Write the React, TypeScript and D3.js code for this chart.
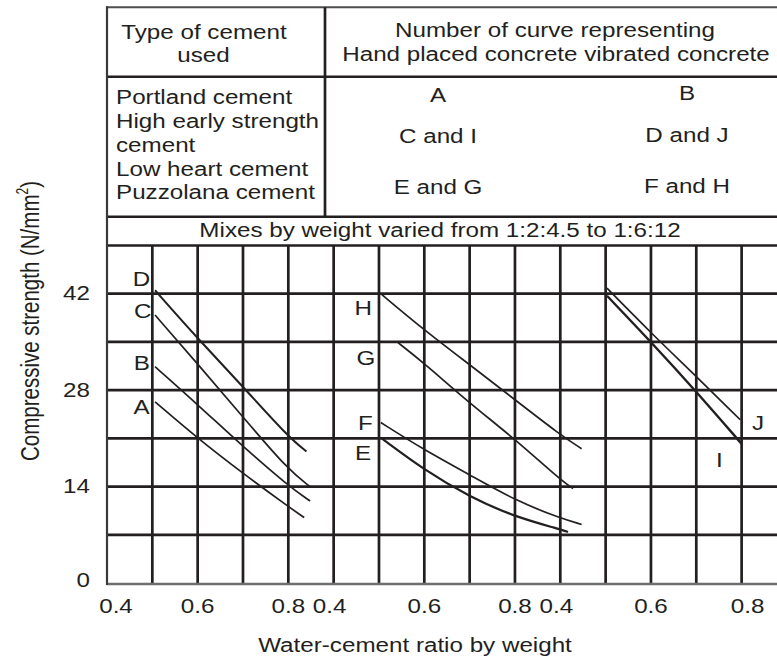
import React, { useEffect, useRef } from 'react';
import * as d3 from 'd3';

// table text
const headLeft = ["Type of cement", "used"];
const headRight = ["Number of curve representing", "Hand placed concrete vibrated concrete"];
const cementTypes = ["Portland cement", "High early strength", "cement", "Low heart cement", "Puzzolana cement"];
const handPlaced = ["A", "C and I", "E and G"];
const vibrated = ["B", "D and J", "F and H"];
const mixNote = "Mixes by weight varied from 1:2:4.5 to 1:6:12";

// axes
const xTicks = [0.4, 0.6, 0.8];
const yTicks = [0, 14, 28, 42];
const yGrid = [7, 14, 21, 28, 35, 42, 49];

// curves: [water-cement ratio, strength N/mm2], panel index
const curveA = [[0.506, 26.3], [0.6, 21.0], [0.7, 15.9], [0.8, 11.1], [0.835, 9.5]];
const curveB = [[0.506, 31.4], [0.6, 25.9], [0.7, 19.8], [0.8, 14.1], [0.848, 11.9]];
const curveC = [[0.506, 38.9], [0.6, 31.8], [0.7, 24.1], [0.8, 16.4], [0.848, 14.0]];
const curveD = [[0.506, 42.5], [0.6, 35.5], [0.7, 28.5], [0.8, 21.2], [0.84, 19.1]];
const curveE = [[0.504, 21.1], [0.6, 16.4], [0.7, 12.5], [0.8, 9.6], [0.9, 7.8], [0.917, 7.4]];
const curveF = [[0.504, 23.3], [0.6, 19.3], [0.7, 15.7], [0.8, 12.0], [0.9, 9.4], [0.947, 8.5]];
const curveG = [[0.54, 35.0], [0.6, 31.9], [0.7, 26.1], [0.8, 20.9], [0.9, 15.0], [0.928, 13.7]];
const curveH = [[0.504, 42.0], [0.6, 36.7], [0.7, 31.7], [0.8, 26.6], [0.9, 21.5], [0.947, 19.5]];
const curveI = [[0.503, 41.7], [0.6, 35.0], [0.7, 27.8], [0.8, 20.2]];
const curveJ = [[0.503, 42.8], [0.6, 36.3], [0.7, 30.0], [0.797, 23.7]];

const curves = [
    { name: "A", panel: 0, points: curveA },
    { name: "B", panel: 0, points: curveB },
    { name: "C", panel: 0, points: curveC },
    { name: "D", panel: 0, points: curveD },
    { name: "E", panel: 1, points: curveE },
    { name: "F", panel: 1, points: curveF },
    { name: "G", panel: 1, points: curveG },
    { name: "H", panel: 1, points: curveH },
    { name: "I", panel: 2, points: curveI },
    { name: "J", panel: 2, points: curveJ },
];

// where each letter sits, in data units
const curveLabels = [
    { name: "D", panel: 0, x: 0.476, y: 44.1 },
    { name: "C", panel: 0, x: 0.479, y: 39.5 },
    { name: "B", panel: 0, x: 0.477, y: 31.9 },
    { name: "A", panel: 0, x: 0.476, y: 25.6 },
    { name: "H", panel: 1, x: 0.465, y: 39.9 },
    { name: "G", panel: 1, x: 0.471, y: 32.7 },
    { name: "F", panel: 1, x: 0.47, y: 23.2 },
    { name: "E", panel: 1, x: 0.465, y: 18.9 },
    { name: "J", panel: 2, x: 0.836, y: 23.3 },
    { name: "I", panel: 2, x: 0.751, y: 17.9 },
];

const W = 777;
const H = 662;
const ink = "#231f20";
const SX = 1.21; // the original lettering is stretched sideways

const App = () => {
    const ref = useRef(null);

    useEffect(() => {
        const svg = d3.select(ref.current);
        svg.selectAll("*").remove();

        const left = 107, cell = 45.33, top = 245.5, bottom = 583;

        // grid cell index -> pixel, one panel per 0.4..0.8 run
        const gx = d3.scaleLinear().domain([0, 14]).range([left, left + 14 * cell]);
        const y = d3.scaleLinear().domain([0, 49]).range([bottom, top]);
        const xs = [0, 1, 2].map(p => d3.scaleLinear().domain([0.4, 0.8]).range([gx(p * 5), gx(p * 5 + 4)]));

        svg.append("rect").attr("width", W).attr("height", H).attr("fill", "white");

        const root = svg.append("g")
            .attr("fill", ink)
            .attr("font-family", "'Liberation Sans', Arial, Helvetica, sans-serif")
            .attr("font-size", 20);

        const text = (x, yy, txt, anchor = "middle") =>
            root.append("text")
                .attr("transform", `translate(${x},${yy}) scale(${SX},1)`)
                .attr("text-anchor", anchor)
                .text(txt);

        const hline = (x1, x2, yy, w, c = ink) =>
            root.append("line").attr("x1", x1).attr("x2", x2).attr("y1", yy).attr("y2", yy)
                .attr("stroke", c).attr("stroke-width", w);
        const vline = (xx, y1, y2, w, c = ink) =>
            root.append("line").attr("x1", xx).attr("x2", xx).attr("y1", y1).attr("y2", y2)
                .attr("stroke", c).attr("stroke-width", w);

        //////// table ////////
        const tTop = 7.3, tHead = 76.7, tBody = 216.7, divider = 325;
        hline(left - 1, W, tTop, 2, "#4d4d4f");
        hline(left, W, tHead, 2.6);
        hline(left, W, tBody, 2.6);
        vline(divider, tTop, tBody, 2.7);

        text(204, 38.5, headLeft[0]);
        text(203.5, 62, headLeft[1]);
        text(555, 37, headRight[0]);
        text(556, 61, headRight[1]);

        [104, 128.3, 151.7, 175.7, 199.3].forEach((b, i) => text(116, b, cementTypes[i], "start"));
        [101.7, 143.3, 194].forEach((b, i) => text(438, b, handPlaced[i]));
        [100, 141.7, 192.7].forEach((b, i) => text(687, b, vibrated[i]));

        text(440, 237.3, mixNote);

        //////// grid ////////
        yGrid.forEach(v => hline(left, W, y(v), 2.7));
        d3.range(1, 16).forEach(k => vline(gx(k), top, bottom, 2.7));
        hline(left, W, bottom + 1, 2.4, "#6d6e71");
        vline(left, tTop - 1, bottom + 2, 2.2, "#3a3a3c");

        //////// curves ////////
        const widths = { D: 2.0, E: 2.2, I: 2.4 };
        curves.forEach(c => {
            const line = d3.line()
                .x(d => xs[c.panel](d[0]))
                .y(d => y(d[1]))
                .curve(d3.curveBasis);
            root.append("path")
                .attr("d", line(c.points))
                .attr("fill", "none")
                .attr("stroke", ink)
                .attr("stroke-width", widths[c.name] || 1.7);
        });

        curveLabels.forEach(l => text(xs[l.panel](l.x), y(l.y) + 7.2, l.name));

        //////// axes labels ////////
        [0, 1, 2].forEach(p => {
            xTicks.forEach(t => {
                let dx = 0;
                if (t === 0.4) dx = p === 0 ? 9 : -4;
                if (t === 0.8 && p === 2) dx = 6;
                text(xs[p](t) + dx, 612.5, d3.format(".1f")(t));
            });
        });

        yTicks.forEach(v => text(90, Math.min(y(v) + 6.5, 587), String(v), "end"));

        text(415, 652, "Water-cement ratio by weight");

        const yTitle = root.append("text")
            .attr("transform", "translate(38.5,461) scale(1.3,1) rotate(-90)")
            .attr("text-anchor", "start")
            .attr("font-size", 20.5);
        yTitle.append("tspan").text("Compressive strength (N/mm");
        yTitle.append("tspan").attr("dy", -8).attr("font-size", 12).text("2");
        yTitle.append("tspan").attr("dy", 8).text(")");
    }, []);

    return (
        <svg ref={ref} width={W} height={H} style={{ position: "absolute", left: 0, top: 0 }} />
    );
};

export default App;
